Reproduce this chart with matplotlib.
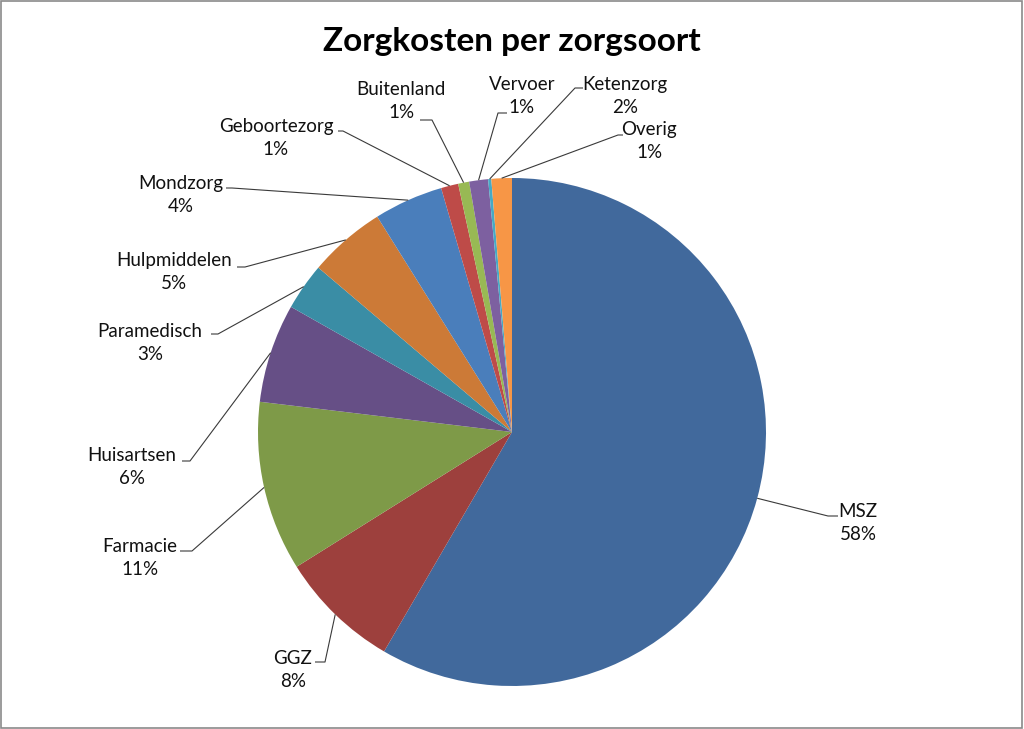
import matplotlib
matplotlib.use("Agg")
import matplotlib.pyplot as plt
import numpy as np
from matplotlib.patches import Rectangle

categories = ["MSZ", "GGZ", "Farmacie", "Huisartsen", "Paramedisch", "Hulpmiddelen",
              "Mondzorg", "Geboortezorg", "Buitenland", "Vervoer", "Ketenzorg", "Overig"]
values = [58.4, 7.7, 10.8, 6.3, 3.0, 4.9, 4.4, 1.1, 0.7, 1.2, 0.2, 1.3]
pct_labels = ["58%", "8%", "11%", "6%", "3%", "5%", "4%", "1%", "1%", "1%", "2%", "1%"]
colors = ["#41699C", "#9D403D", "#7E9A48", "#664F86", "#3A8DA5", "#CC7A37",
          "#4A7EBB", "#BE4B48", "#98B954", "#7D60A0", "#46AAC5", "#F79646"]

W, H = 1024, 729
# layout (pixel coords, origin top-left): label centre, leader elbow, leader end x
label_pos = [(858, 523), (293, 670), (140, 558), (132, 467), (150, 343), (174, 272),
             (181, 195), (276, 138), (401, 101), (522, 96), (625, 96), (649, 141)]
elbows = [(828, 516), (325, 662), (192, 551), (190, 461), (218, 334), (245, 267),
          (232, 188), (343, 131), (432, 120), (498, 113), (575, 88), (618, 135)]
ends_x = [838, 315, 180, 182, 211, 237, 226, 338, 420, 507, 583, 623]

fig = plt.figure(figsize=(W / 100, H / 100), dpi=100)
ax = fig.add_axes([0, 0, 1, 1])
ax.set_xlim(0, W)
ax.set_ylim(0, H)
ax.set_aspect("equal")
ax.axis("off")

cx, cy, r = 512, H - 432, 254
wedges, _ = ax.pie(values, colors=colors, startangle=90, counterclock=False,
                   center=(cx, cy), radius=r, wedgeprops=dict(linewidth=0))
ax.set_xlim(0, W)
ax.set_ylim(0, H)

fam = ["Lato", "DejaVu Sans"]
for w, cat, pct, (lx, ly), (ex, ey), endx in zip(wedges, categories, pct_labels,
                                                  label_pos, elbows, ends_x):
    mid = np.deg2rad((w.theta1 + w.theta2) / 2)
    sx, sy = cx + r * np.cos(mid), cy + r * np.sin(mid)
    ax.plot([sx, ex, endx], [sy, H - ey, H - ey], color="#3a3a3a", lw=0.8,
            solid_capstyle="butt")
    ax.text(lx, H - ly, f"{cat}\n{pct}", ha="center", va="center",
            multialignment="center", fontsize=13.5, family=fam, color="#111111",
            linespacing=1.4)

fig.text(0.5, 1 - 42 / H, "Zorgkosten per zorgsoort", ha="center", va="center",
         fontsize=24, fontweight="bold", family=fam, color="black")

fig.patches.append(Rectangle((0.0005, 0.0007), 0.998, 0.998, transform=fig.transFigure,
                             fill=False, edgecolor="#8a8a8a", lw=1.2))

fig.savefig("out.png", dpi=100)
